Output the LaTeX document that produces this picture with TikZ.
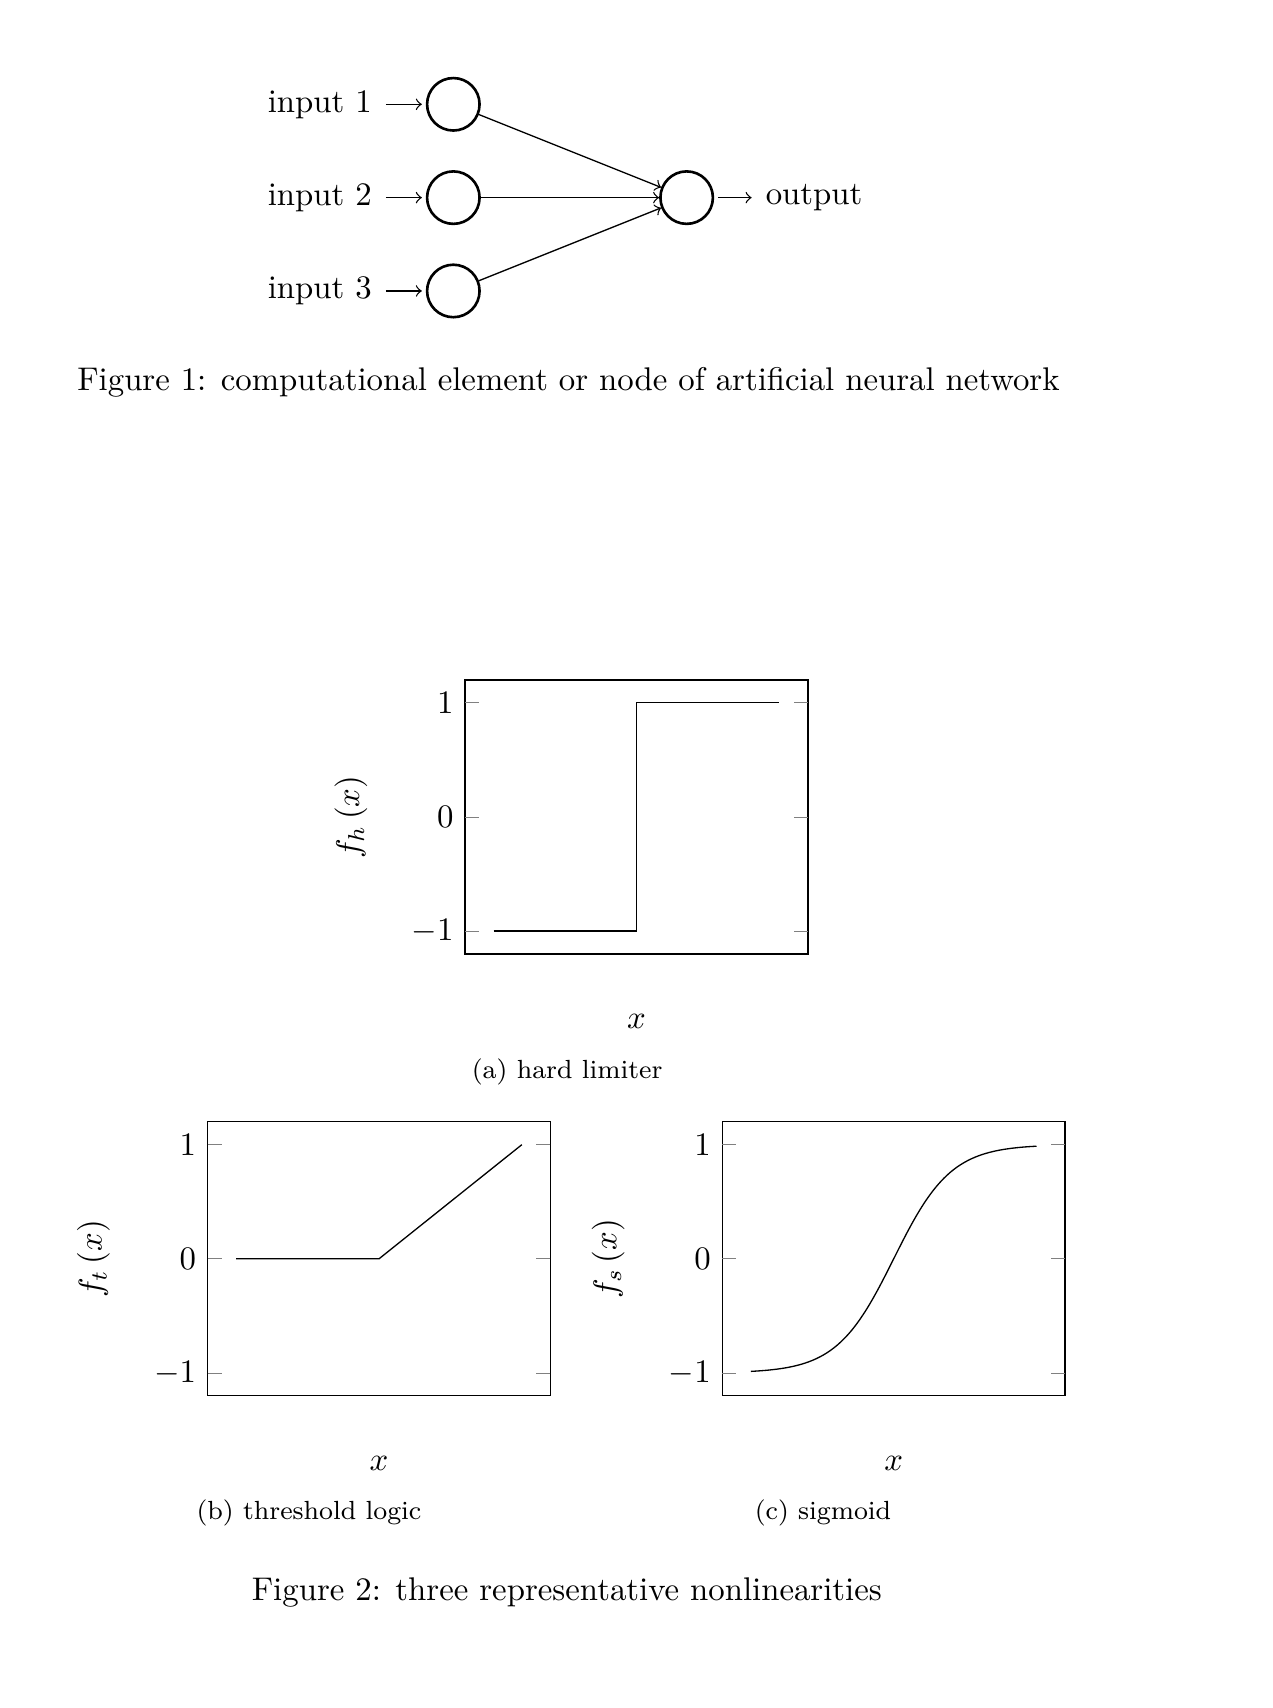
\documentclass[tikz,border=0pt]{standalone}
\usepackage{amsmath}
\usepackage{tikz}
\usetikzlibrary{positioning, arrows}
\tikzstyle{neuron} = [circle, draw=black, thick, minimum size=16pt, inner sep=0pt]
\tikzstyle{synapse} = [->]
\tikzstyle{inarrow} = [->, shorten <=0.8pt, shorten >=1.2pt]
\tikzstyle{outarrow} = [->, shorten <=1.2pt, shorten >=0.8pt]
\tikzstyle{axisbox} = [draw=black]
\tikzstyle{tickmark} = [very thin, gray]
\tikzstyle{curve} = [black]
\tikzstyle{subcap} = [font=\footnotesize, anchor=base]
\tikzstyle{figcap} = [anchor=base]

\begin{document}
\begin{tikzpicture}
  \useasboundingbox (0,0) rectangle (387.8pt,-520.7pt);
  % Figure 1: one computational node
  \node (I-1) [neuron] at (138.2pt,-31.8pt) {};
  \node (I-2) [neuron, below of=I-1] {};
  \node (I-3) [neuron, below of=I-2] {};
  \node (O) [neuron, right of=I-2, xshift=1.5cm] {};
  \node (in1) [left=3ex of I-1] {input 1};
  \node (in2) [left=3ex of I-2] {input 2};
  \node (in3) [left=3ex of I-3] {input 3};
  \node (out) [right=12.2pt of O] {output};
  \draw[inarrow] (in1) -- (I-1);
  \draw[inarrow] (in2) -- (I-2);
  \draw[inarrow] (in3) -- (I-3);
  \draw[synapse] (I-1) -- (O);
  \draw[synapse] (I-2) -- (O);
  \draw[synapse] (I-3) -- (O);
  \draw[outarrow] (O) -- (out);
  \node (cap1) [figcap] at (173.3pt,-118.9pt) {Figure 1: computational element or node of artificial neural network};

  % Figure 2 (a): hard limiter
  \begin{scope}[shift={(194.05pt,-249.05pt)}, x=43.54pt, y=34.79pt]
    \draw[axisbox] (-1.2,-1.2) rectangle (1.2,1.2);
    \foreach \v in {-1,0,1} {
      \draw[tickmark] (-1.2,\v) -- ++(4.27pt,0);
      \draw[tickmark] (1.2,\v) -- ++(-4.27pt,0);
      \node[anchor=east] at (-1.2,\v) {$\v$};
    }
    \draw[curve] (-1,-1) -- (0,-1) -- (0,1) -- (1,1);
    \node (hardy) [rotate=90] at (-2,0) {$f_h\left(x\right)$};
    \node (hardx) at (0,-1.79) {$x$};
  \end{scope}
  \node (capa) [subcap] at (172.9pt,-328.8pt) {(a) hard limiter};

  % Figure 2 (b): threshold logic
  \begin{scope}[shift={(115.55pt,-383.75pt)}, x=43.54pt, y=34.79pt]
    \draw[axisbox] (-1.2,-1.2) rectangle (1.2,1.2);
    \foreach \v in {-1,0,1} {
      \draw[tickmark] (-1.2,\v) -- ++(4.27pt,0);
      \draw[tickmark] (1.2,\v) -- ++(-4.27pt,0);
      \node[anchor=east] at (-1.2,\v) {$\v$};
    }
    \draw[curve] (-1,0) -- (0,0) -- (1,1);
    \node (thry) [rotate=90] at (-2,0) {$f_t\left(x\right)$};
    \node (thrx) at (0,-1.79) {$x$};
  \end{scope}
  \node (capb) [subcap] at (94.2pt,-463.1pt) {(b) threshold logic};

  % Figure 2 (c): sigmoid
  \begin{scope}[shift={(272.45pt,-383.75pt)}, x=43.54pt, y=34.79pt]
    \draw[axisbox] (-1.2,-1.2) rectangle (1.2,1.2);
    \foreach \v in {-1,0,1} {
      \draw[tickmark] (-1.2,\v) -- ++(4.27pt,0);
      \draw[tickmark] (1.2,\v) -- ++(-4.27pt,0);
      \node[anchor=east] at (-1.2,\v) {$\v$};
    }
    \draw[curve] plot[domain=-1:1, samples=80, smooth] (\x,{tanh(2.5*\x)});
    \node (sigy) [rotate=90] at (-2,0) {$f_s\left(x\right)$};
    \node (sigx) at (0,-1.79) {$x$};
  \end{scope}
  \node (capc) [subcap] at (250.9pt,-463.1pt) {(c) sigmoid};

  \node (cap2) [figcap] at (172.8pt,-488pt) {Figure 2: three representative nonlinearities};
\end{tikzpicture}
\end{document}
